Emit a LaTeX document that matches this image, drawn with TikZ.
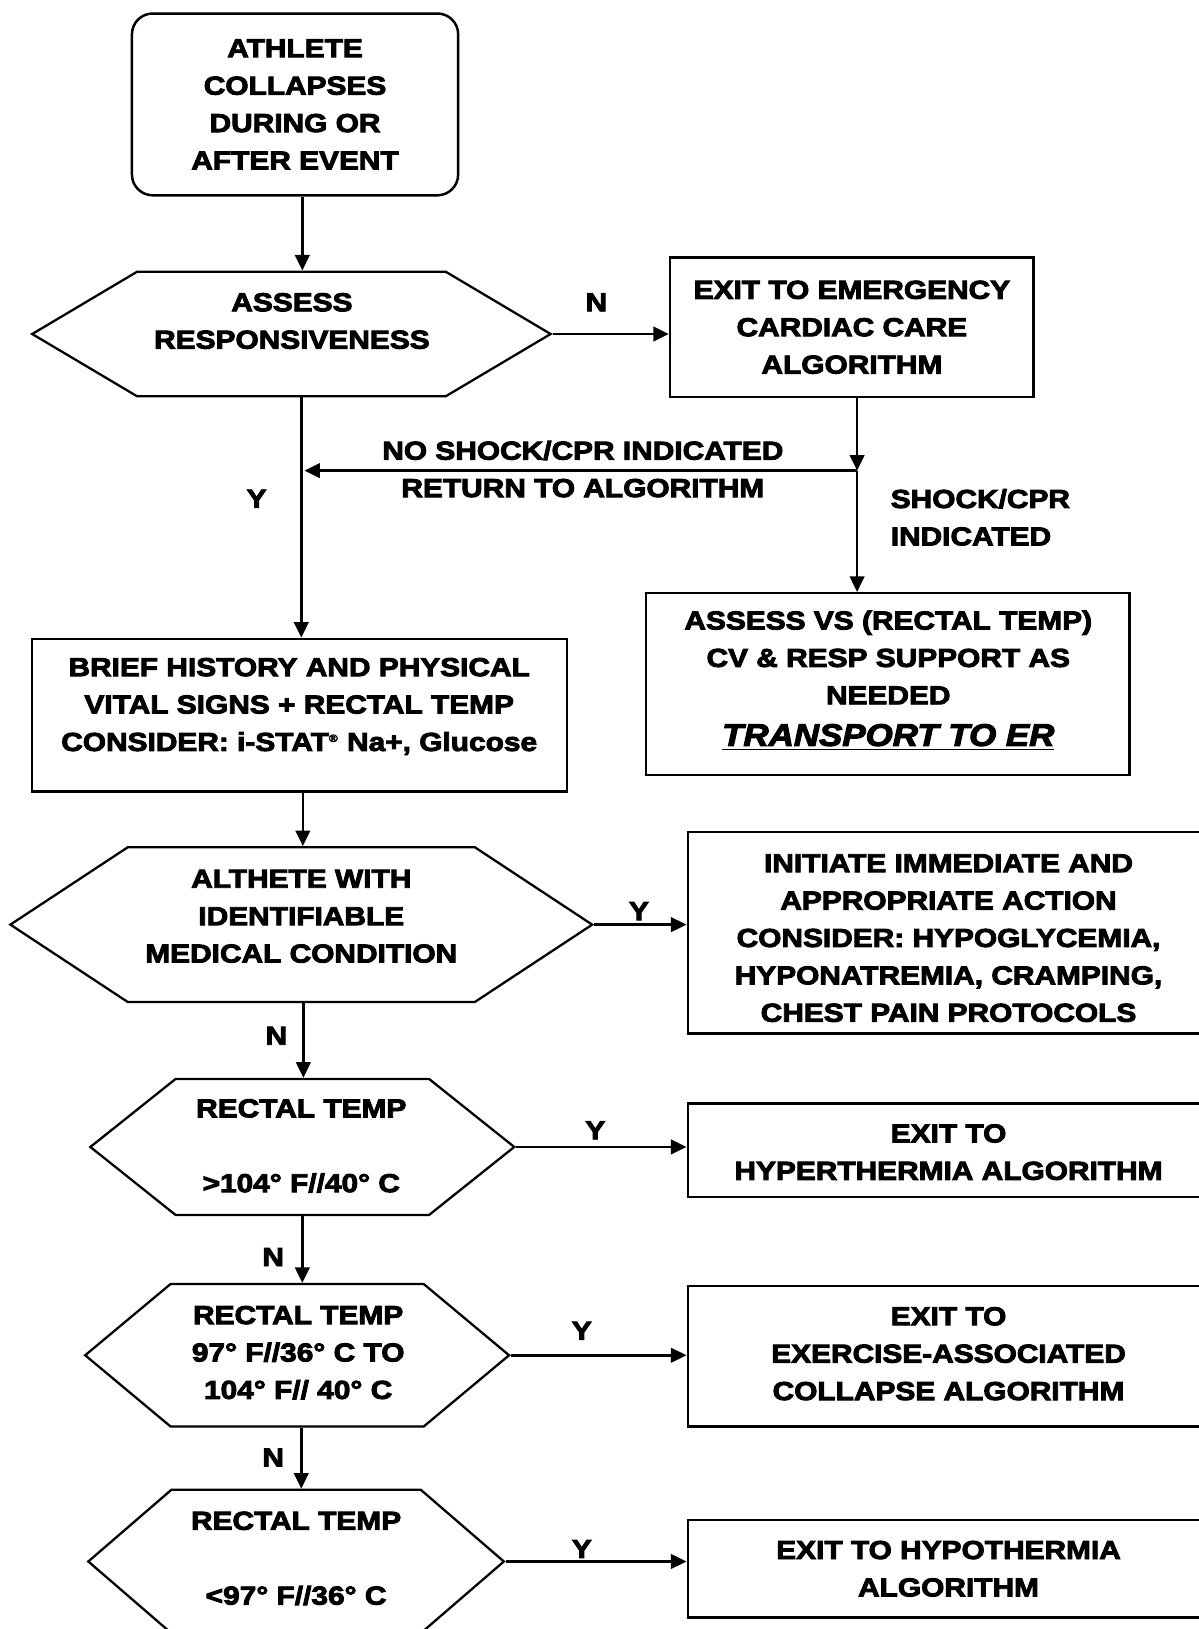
\documentclass[tikz,border=0pt]{standalone}
\usepackage{fontspec}
\setmainfont{Liberation Sans}[BoldFeatures={FakeStretch=1.15,FakeBold=3.5},BoldItalicFeatures={FakeStretch=1.12,FakeBold=3.5}]
\usetikzlibrary{shapes.symbols,arrows.meta}
\tikzset{
  base/.style={font=\fontsize{12.5}{18}\selectfont\bfseries, align=center},
  txt/.style={base, inner sep=0pt},
  box/.style={base, draw, line width=1.2pt, inner sep=0pt},
  rbox/.style={box, rounded corners=10pt},
  hexa/.style={draw, line width=1.1pt, shape=signal, signal to=west and east, inner sep=0pt},
  arr/.style={line width=1.2pt, -{Triangle[length=7.5pt,width=7pt]}},
  lab/.style={base, inner sep=0pt}
}
\begin{document}
\begin{tikzpicture}[x=0.5pt,y=-0.5pt]
\clip (0,0) rectangle (1154,1568);
\fill[white] (0,0) rectangle (1154,1568);
% start
\node[rbox, minimum width=157pt, minimum height=87.5pt] (start) at (284,100.5) {ATHLETE\\COLLAPSES\\DURING OR\\AFTER EVENT};
% hex 1
\node[hexa, minimum width=249.5pt, minimum height=60pt, signal pointer angle=61.4] (h1) at (280.5,321.5) {};
\node[txt] (h1t) at (281,309) {ASSESS\\RESPONSIVENESS};
% emergency
\node[box, minimum width=175pt, minimum height=67pt] (emerg) at (820,315) {EXIT TO EMERGENCY\\CARDIAC CARE\\ALGORITHM};
% assess vs
\node[box, minimum width=232.5pt, minimum height=87.5pt] (avs) at (854.5,658.5) {};
\node[txt] (avst) at (855,655) {ASSESS VS (RECTAL TEMP)\\CV \& RESP SUPPORT AS\\NEEDED\\[2pt]{\fontsize{15}{18}\selectfont\itshape\underline{TRANSPORT TO ER}}};
% brief
\node[box, minimum width=257.5pt, minimum height=73.5pt] (brief) at (288.5,688.5) {};
\node[txt] (brieft) at (288,680) {BRIEF HISTORY AND PHYSICAL\\VITAL SIGNS + RECTAL TEMP\\CONSIDER: i-STAT\textsuperscript{\tiny\textregistered} Na+, Glucose};
% hex 2
\node[hexa, minimum width=280pt, minimum height=74.5pt, signal pointer angle=66.8] (h2) at (290,890) {};
\node[txt] (h2t) at (290,882) {ALTHETE WITH\\IDENTIFIABLE\\MEDICAL CONDITION};
% initiate
\node[box, minimum width=254pt, minimum height=97pt] (init) at (916,898) {};
\node[txt] (initt) at (913,903) {INITIATE IMMEDIATE AND\\APPROPRIATE ACTION\\CONSIDER: HYPOGLYCEMIA,\\HYPONATREMIA, CRAMPING,\\CHEST PAIN PROTOCOLS};
% hex 3
\node[hexa, minimum width=204pt, minimum height=65.5pt, signal pointer angle=77.2] (h3) at (291,1104) {};
\node[txt] (h3t) at (290,1103) {RECTAL TEMP\\ \\>104° F//40° C};
% hyper
\node[box, minimum width=254pt, minimum height=45pt] (hyper) at (916,1107) {};
\node[txt] (hypert) at (913,1109) {EXIT TO\\HYPERTHERMIA ALGORITHM};
% hex 4
\node[hexa, minimum width=204pt, minimum height=68.5pt, signal pointer angle=79.7] (h4) at (286,1304.5) {};
\node[txt] (h4t) at (287,1302) {RECTAL TEMP\\97° F//36° C TO\\104° F// 40° C};
% exercise
\node[box, minimum width=254pt, minimum height=67.5pt] (exer) at (916,1305.5) {};
\node[txt] (exert) at (913,1303) {EXIT TO\\EXERCISE-ASSOCIATED\\COLLAPSE ALGORITHM};
% hex 5
\node[hexa, minimum width=200pt, minimum height=69pt, signal pointer angle=81.6] (h5) at (285,1503) {};
\node[txt] (h5t) at (285,1500) {RECTAL TEMP\\ \\<97° F//36° C};
% hypo
\node[box, minimum width=254pt, minimum height=47pt] (hypo) at (916,1510) {};
\node[txt] (hypot) at (913,1510) {EXIT TO HYPOTHERMIA\\ALGORITHM};
% connectors
\coordinate (j) at (825,453);
\coordinate (sp) at (290,382);
\draw[arr] ([xshift=3.5pt]start.south) -- ([xshift=3.5pt]start.south |- h1.north);
\draw[arr] (h1.east) -- (h1.east -| emerg.west);
\draw[arr] (emerg.south -| j) -- (j);
\draw[arr] (j) -- (j |- avs.north);
\draw[arr, shorten >=1.5pt] (j) -- (j -| sp);
\draw[arr] (h1.south -| sp) -- (sp |- brief.north);
\draw[arr] ([xshift=1.5pt]brief.south) -- ([xshift=1.5pt]brief.south |- h2.north);
\draw[arr] (h2.east) -- (h2.east -| init.west);
\draw[arr] ([xshift=1pt]h2.south) -- ([xshift=1pt]h2.south |- h3.north);
\draw[arr] (h3.east) -- (h3.east -| hyper.west);
\draw[arr] (h3.south) -- (h3.south |- h4.north);
\draw[arr] (h4.east) -- (h4.east -| exer.west);
\draw[arr] ([xshift=2pt]h4.south) -- ([xshift=2pt]h4.south |- h5.north);
\draw[arr] (h5.east) -- (h5.east -| hypo.west);
% labels
\node[lab] (lN1) at (574,291) {N};
\node[lab] (lY1) at (247,480) {Y};
\node[lab] (lno) at (561,451.5) {NO SHOCK/CPR INDICATED\\RETURN TO ALGORITHM};
\node[lab, align=left, anchor=west] (lsh) at (857,498) {SHOCK/CPR\\INDICATED};
\node[lab] (lY2) at (615,877) {Y};
\node[lab] (lN2) at (266,997) {N};
\node[lab] (lY3) at (573,1088) {Y};
\node[lab] (lN3) at (263,1210) {N};
\node[lab] (lY4) at (560,1281) {Y};
\node[lab] (lN4) at (263,1403) {N};
\node[lab] (lY5) at (560,1491) {Y};
\end{tikzpicture}
\end{document}
